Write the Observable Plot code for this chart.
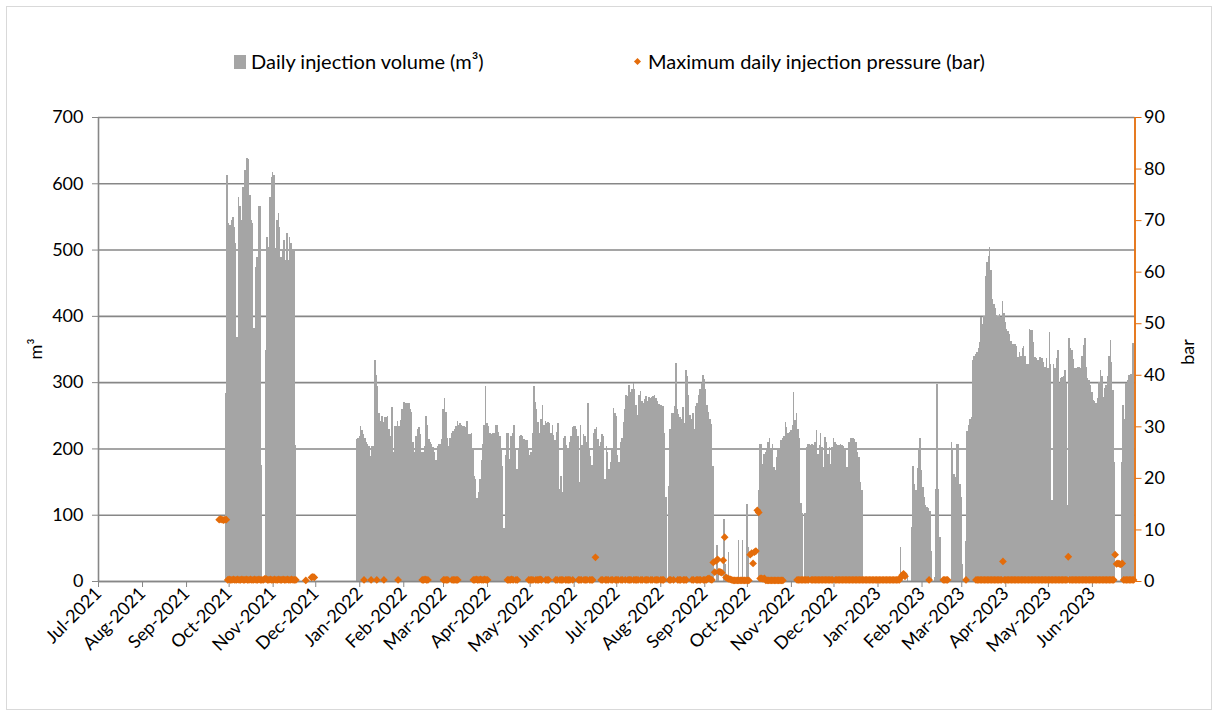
<!DOCTYPE html>
<html><head><meta charset="utf-8">
<script src="https://cdn.jsdelivr.net/npm/d3@7"></script>
<script src="https://cdn.jsdelivr.net/npm/@observablehq/plot@0.6"></script>
<style>
html,body{margin:0;padding:0;background:#fff;}
#wrap{position:relative;width:1212px;height:710px;overflow:hidden;font-family:Lato,"Open Sans",sans-serif;color:#000;}
#frame{position:absolute;left:6px;top:6px;width:1206px;height:704px;border:1px solid #d9d9d9;box-sizing:border-box;pointer-events:none;}
#chart{position:absolute;left:0;top:0;}
.leg{position:absolute;font-size:20px;line-height:24px;white-space:nowrap;}
.sq{position:absolute;width:12px;height:14px;background:#A5A5A5;}
.dm{position:absolute;width:5px;height:5px;background:#E46C0A;transform:rotate(45deg);}
.ttl{position:absolute;font-size:18px;white-space:nowrap;transform:translate(-50%,-50%) rotate(-90deg);}
</style></head>
<body><div id="wrap"><div id="chart"></div><div id="frame"></div></div>
<script>
// ---- tick labels / axis ticks ----
const monthTicks = ["2021-07-01","2021-08-01","2021-09-01","2021-10-01","2021-11-01","2021-12-01","2022-01-01","2022-02-01","2022-03-01","2022-04-01","2022-05-01","2022-06-01","2022-07-01","2022-08-01","2022-09-01","2022-10-01","2022-11-01","2022-12-01","2023-01-01","2023-02-01","2023-03-01","2023-04-01","2023-05-01","2023-06-01"];
const xTickLabels = ["Jul-2021","Aug-2021","Sep-2021","Oct-2021","Nov-2021","Dec-2021","Jan-2022","Feb-2022","Mar-2022","Apr-2022","May-2022","Jun-2022","Jul-2022","Aug-2022","Sep-2022","Oct-2022","Nov-2022","Dec-2022","Jan-2023","Feb-2023","Mar-2023","Apr-2023","May-2023","Jun-2023"];
const volumeTicks = [0,100,200,300,400,500,600,700];
const pressureTicks = [0,10,20,30,40,50,60,70,80,90];
const volumeMax = 700, pressureMax = 90;

// ---- daily injection volume (m³), runs of consecutive days ----
const vol2021Start = "2021-09-29";
const vol2021 = [283,612,540,537,545,549,534,510,368,580,565,545,595,620,620,638,637,582,544,540,381,474,489,565,565,175,0,0,348,519,504,580,610,617,612,502,545,555,534,489,499,514,484,525,484,519,510,500,498,205];

const vol2022aStart = "2021-12-30";
const vol2022a = [
214,216,219,234,228,222,215,210,206,204,
189,204,204,334,311,294,254,242,249,240,
247,247,249,229,219,262,194,234,234,242,
234,243,260,270,270,269,269,269,260,255,
210,194,219,229,232,222,194,194,204,249,
235,214,210,206,202,195,182,204,206,206,
214,260,276,255,215,204,216,224,226,230,
234,242,236,239,236,234,234,232,242,222,
222,224,200,159,154,125,134,154,182,206,
236,294,239,234,224,222,224,224,236,236,
225,218,200,174,80,190,224,224,184,219,
224,236,200,169,200,218,220,219,214,212,
212,200,190,194,224,294,270,260,240,224,
244,266,236,242,239,240,239,224,236,220,
212,225,239,139,159,134,215,218,205,198,
209,219,232,234,234,230,219,149,235,205,
222,219,209,269,200,189,175,224,229,232,
214,204,209,222,218,154,204,194,169,179,
200,261,254,249,190,179,209,215,240,260,
281,279,296,285,290,298,290,266,251,280,
286,272,268,274,279,271,277,276,277,279,
281,276,272,267,266,265,264,224,126,0,
144,230,254,254,264,329,260,252,247,244,
262,239,319,309,280,250,244,254,229,264,
269,280,290,299,311,304,290,265,255,245,
237,174];

const vol2022bStart = "2022-09-10";
const vol2022b = [54,18,0,0,0,93,25,0,44,0,0,0,0,0,0,62,0,0,62,0,0,116,51];

const vol2022cStart = "2022-10-09";
const vol2022c = [
137,207,207,177,192,195,200,210,215,197,
207,172,167,187,197,200,212,215,218,240,
233,223,225,228,235,285,243,253,230,215,
117,102,0,102,202,207,207,205,207,205,
210,228,192,205,223,202,172,217,210,192,
202,177,202,215,210,207,205,205,207,205,
203,200,172,172,210,215,215,215,214,210,
195,187,150,137];

const vol2023aStart = "2023-01-17";
const vol2023a = [51,0,0,0,0,11,0,0,81,174,147,137,170,200,215,167,142,127,115,112,110,106,46,0,6,139,297,139,66];

const vol2023bStart = "2023-02-22";
const vol2023b = [210,200,162,157,207,207,147,127,26,0,
60,227,236,245,247,333,340,343,346,352,
360,398,388,400,460,482,490,504,469,425,
418,412,402,400,403,398,423,405,390,380,
377,372,362,358,358,358,355,338,345,340,
352,355,340,328,328,380,378,378,360,338,
336,333,338,338,336,330,323,336,321,376,
328,122,328,321,336,349,298,306,308,310,
318,298,115,366,351,349,335,321,321,323,
323,322,340,356,366,323,306,303,296,285,
273,271,268,276,300,318,310,278,291,296,
310,340,364,330,288,180,0,0,0,0,
180,266,245,298,303,311,313,313,359];

// ---- maximum daily injection pressure (bar), runs of consecutive days ----
const pressureRuns = [
["2021-09-24",[12,12.1,12,11.9,12,12]],
["2021-09-30",[0.3,0.4,0.3,0.3,0.4,0.3,0.3,0.4,0.3,0.3,0.4,0.3,0.3,0.4,0.3,0.3,0.4,0.3,0.3,0.4,0.3,0.3,0.4,0.3,0.3,0.3,0.5,0.5,0.3,0.3,0.4,0.3,0.3,0.4,0.3,0.3,0.4,0.3,0.3,0.4,0.3,0.3,0.4,0.3,0.3,0.4,0.3,0.3,0.3]],
["2021-11-24",[0.2,null,null,null,0.8,0.9,0.8]],
["2022-01-04",[0.3,null,null,null,null,0.3,null,null,null,0.3,null,null,null,null,0.3]],
["2022-01-28",[0.3]],
["2022-02-14",[0.3,0.3,0.4,0.3,0.3]],
["2022-03-01",[0.3,0.3,0.3,0.3,null,null,0.3,0.3,0.3,0.3,0.3]],
["2022-03-22",[0.3,0.3,0.4,0.3,0.3,0.4,0.3,0.3,0.4,0.3,0.3]],
["2022-04-15",[0.3,0.3,0.3,0.4,0.3,null,0.3,0.3]],
["2022-04-30",[0.3,0.3,0.3,0.3,null,0.3,0.3,0.3,0.4,0.3]],
["2022-05-12",[0.3,0.3,0.3]],
["2022-05-19",[0.3,0.3,null,0.3,0.3,0.3,null,0.3,0.3,0.3,0.3,null,0.3]],
["2022-06-04",[0.3,0.3,0.3,null,0.3,0.3,0.3,null,0.3,0.3,0.3,null,4.7]],
["2022-06-20",[0.3,0.3,null,0.3,0.3,0.3,null,0.3,0.3,null,0.3,0.3,0.3,null,0.3,0.3,null,0.3]],
["2022-07-09",[0.3,0.3,0.3,null,0.3,0.3,0.3,0.3,null,0.3,0.3]],
["2022-07-21",[0.3,0.3,0.3,null,0.3,0.3]],
["2022-07-28",[0.3,0.3,0.3,null,0.3,0.3,0.3]],
["2022-08-07",[0.3,0.3,null,0.3]],
["2022-08-13",[0.3,0.3,0.3,null,0.3,0.3,0.3]],
["2022-08-23",[0.3,0.3,null,0.3,0.3,0.3,0.3,null,0.3,0.3,0.3,0.5,0.6,0.4,0.3,
  3.7,1.8,4.0,4.3,1.9,1.8,1.7,4.1,8.6,0.8,0.6,0.5,0.4,0.3,
  0.2,0.2,0.2,0.2,0.2,0.2,0.2,0.2,0.2,0.2,0.2,0.2,
  5.2,5.5,3.5,5.7,5.9,13.8,13.4,
  0.6,0.6,0.5,0.6,
  0.2,0.2,0.2,0.2,0.2,0.2,0.2,0.2,0.2,0.2,0.2,0.2,0.2]],
["2022-11-05",[0.3,0.3,0.3,0.3,0.3,0.3,0.3,0.3,0.3]],
["2022-11-15",[0.3,0.3,0.3,0.3,0.3,0.3,0.3,0.3,0.3,0.3,0.3,0.3,0.3,0.3,0.3,0.3]],
["2022-12-02",[0.3,0.3,0.3,0.3,0.3,0.3,0.3,0.3,0.3,0.3,
  0.3,0.3,0.3,0.3,0.3,0.3,0.3,0.3,0.3,0.3,
  0.3,0.3,0.3,0.3,0.3,0.3,0.3,0.3,0.3,0.3,
  0.3,0.3,0.3,0.3,0.3,0.3,0.3,0.3,0.3,0.3,
  0.3,0.3,0.3,0.3,0.3,0.3,0.8,1.2,1.5,1.0]],
["2023-02-06",[0.3]],
["2023-02-16",[0.3,0.3,0.3,0.3]],
["2023-03-04",[0.3]],
["2023-03-11",[0.3,0.3,0.3,0.3,0.3,0.3,0.3,0.3,0.3,0.3,
  0.3,0.3,0.3,0.3,0.3,0.3,0.3,0.3,0.3,3.9,
  0.3,0.3,0.3,0.3,0.3,0.3,0.3,0.3,0.3,0.3,
  0.3,0.3,0.3,0.3,0.3,0.3,0.3,0.3,0.3,0.3,
  0.3,0.3,0.3,0.3,0.3,0.3,0.3,0.3,0.3,0.3,
  0.3,0.3,0.3,0.3,0.3,0.3,0.3,0.3,0.3,0.3,
  0.3,0.3,0.3,0.3,0.3,4.8,0.3,0.3,0.3,0.3,
  0.3,0.3,0.3,0.3,0.3,0.3,0.3,0.3,0.3,0.3,
  0.3,0.3,0.3,0.3,0.3,0.3,0.3,0.3,0.3,0.3,
  0.3,0.3,0.3,0.3,0.3,0.3,0.3,0.3,5.2,3.4,
  3.5,3.4,3.3,3.5,0.3,0.3,0.3,0.3,0.3,0.3,
  0.3,0.3]]
];

// ---- build tables ----
const DAY = 864e5;
const volumeRuns = [[vol2021Start,vol2021],[vol2022aStart,vol2022a],[vol2022bStart,vol2022b],[vol2022cStart,vol2022c],[vol2023aStart,vol2023a],[vol2023bStart,vol2023b]];
const volData = [];
for (const [s, vals] of volumeRuns) {
  const t0 = new Date(s).getTime();
  vals.forEach((v, i) => { if (v > 0) volData.push({x1: new Date(t0 + i*DAY - DAY/2), x2: new Date(t0 + i*DAY + DAY/2), v}); });
}
const pressData = [];
for (const [s, vals] of pressureRuns) {
  const t0 = new Date(s).getTime();
  vals.forEach((p, i) => { if (p != null) pressData.push({date: new Date(t0 + i*DAY), p}); });
}
const toVol = p => p * volumeMax / pressureMax;
const orange = "#E46C0A", grid = "#878787", barGray = "#A5A5A5";
const labelOf = new Map(monthTicks.map((m, i) => [new Date(m).getTime(), xTickLabels[i]]));
const xStart = new Date("2021-07-01"), xEnd = new Date("2023-07-01");

const chart = Plot.plot({
  width: 1212, height: 710,
  marginLeft: 98, marginRight: 77.5, marginTop: 117, marginBottom: 129,
  x: {type: "utc", domain: [xStart, xEnd]},
  y: {domain: [0, volumeMax]},
  style: {fontFamily: "Lato, 'Open Sans', sans-serif", fontSize: "16px", color: "#000", background: "transparent", overflow: "visible"},
  marks: [
    Plot.ruleY(volumeTicks, {stroke: grid, strokeWidth: 1.6}),
    Plot.rectY(volData, {x1: "x1", x2: "x2", y1: 0, y2: "v", fill: barGray, shapeRendering: "crispEdges"}),
    Plot.ruleY([0], {stroke: grid, strokeWidth: 1.6}),
    Plot.ruleX([xStart], {y1: 0, y2: volumeMax, stroke: grid, strokeWidth: 1.6}),
    Plot.ruleX([xEnd], {y1: 0, y2: volumeMax, stroke: orange, strokeWidth: 1.8}),
    Plot.axisY({ticks: volumeTicks, tickSize: 6, tickPadding: 9, stroke: grid, fill: "#000", fontSize: 18, label: null}),
    Plot.axisY({anchor: "right", ticks: pressureTicks.map(toVol), tickFormat: d => String(Math.round(d * pressureMax / volumeMax)), tickSize: 6, tickPadding: 3, stroke: orange, fill: "#000", fontSize: 18, label: null}),
    Plot.axisX({ticks: monthTicks.map(m => new Date(m)), tickFormat: d => labelOf.get(d.getTime()), tickRotate: -45, tickSize: 6, tickPadding: 3, stroke: grid, fill: "#000", fontSize: 18, label: null}),
    Plot.dot(pressData, {x: "date", y: d => toVol(d.p), symbol: "diamond2", r: 3.5, fill: orange, stroke: "none"})
  ]
});
document.getElementById("chart").appendChild(chart);

// ---- legend and axis titles ----
const wrap = document.getElementById("wrap");
const add = (cls, css, text) => { const e = document.createElement("div"); e.className = cls; Object.assign(e.style, css); if (text) e.textContent = text; wrap.appendChild(e); };
add("sq", {left: "234px", top: "55px"});
add("leg", {left: "251px", top: "49px"}, "Daily injection volume (m³)");
add("dm", {left: "635px", top: "59px"});
add("leg", {left: "648px", top: "49px"}, "Maximum daily injection pressure (bar)");
add("ttl", {left: "35px", top: "349px"}, "m³");
add("ttl", {left: "1187px", top: "352px"}, "bar");
</script></body></html>
